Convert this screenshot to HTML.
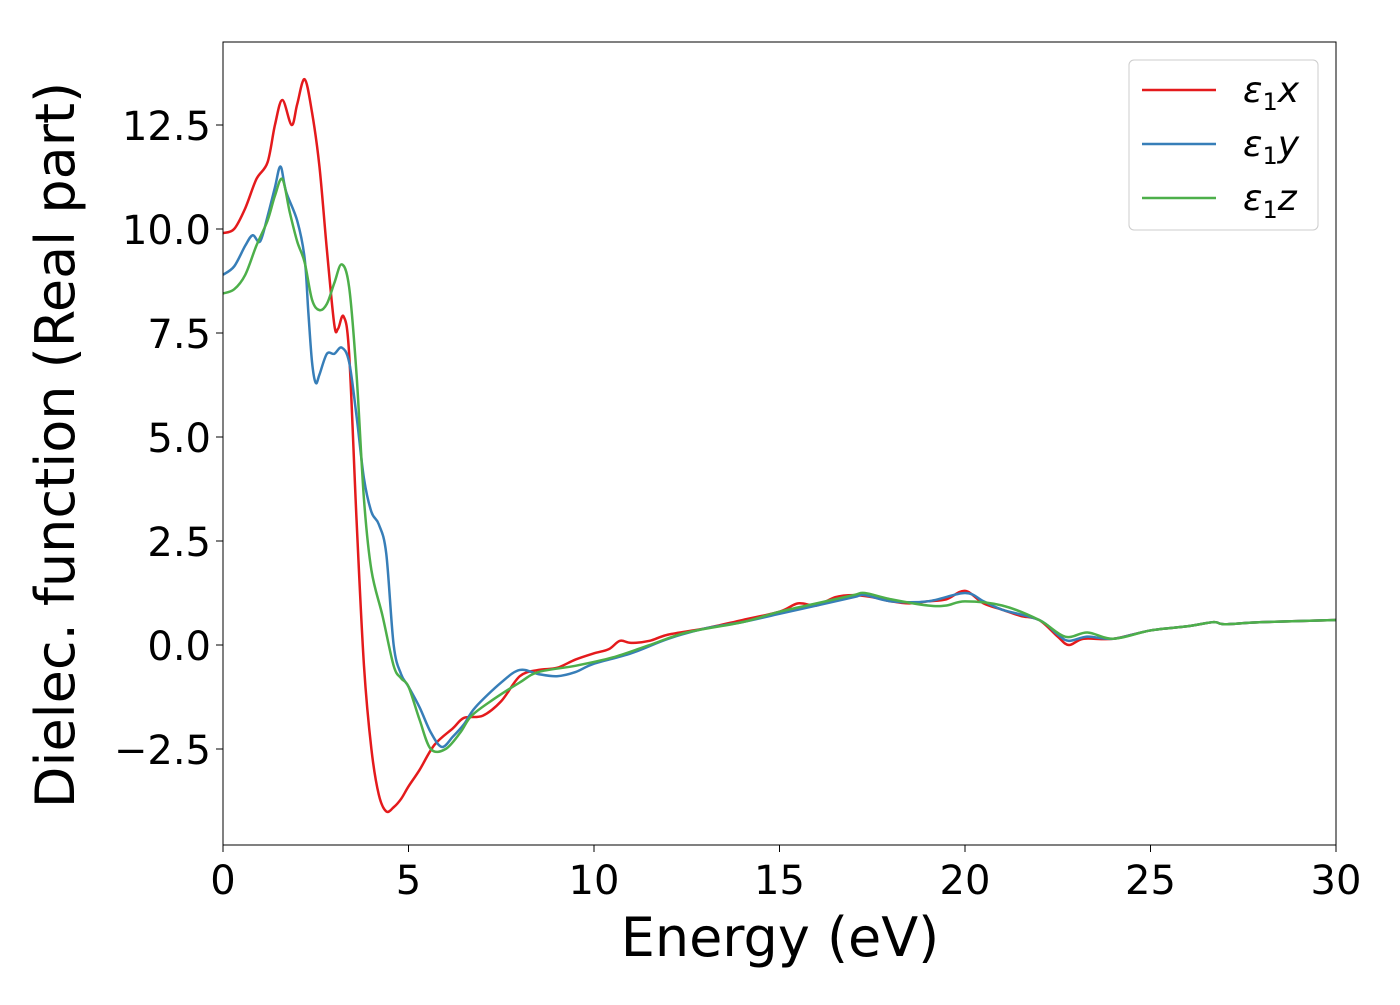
<!DOCTYPE html>
<html><head><meta charset="utf-8"><style>
body{margin:0;background:#fff}
svg{font-family:"DejaVu Sans","Liberation Sans",sans-serif}
</style></head><body>
<svg id="chart" width="1400" height="1000" viewBox="0 0 1400 1000">
<rect width="1400" height="1000" fill="#fff"/>
<g id="plot"></g>
<g id="axes"></g>
</svg>
<script>
const xTicks=[0,5,10,15,20,25,30];
const yTicks=[-2.5,0,2.5,5,7.5,10,12.5];
const yTickLabels=["\u22122.5","0.0","2.5","5.0","7.5","10.0","12.5"];
const seriesNames=["x","y","z"];
const seriesColors=["#e41a1c","#377eb8","#4daf4a"];
const e1x=[[0,9.9],[0.3,10.0],[0.6,10.5],[0.9,11.2],[1.2,11.6],[1.4,12.5],[1.6,13.1],[1.85,12.5],[2.0,13.0],[2.2,13.6],[2.4,12.8],[2.6,11.5],[2.8,9.5],[3.0,7.7],[3.1,7.6],[3.25,7.9],[3.4,7.0],[3.6,3.0],[3.8,-0.5],[4.0,-2.5],[4.2,-3.6],[4.4,-4.0],[4.6,-3.9],[4.8,-3.7],[5.0,-3.4],[5.3,-3.0],[5.7,-2.4],[6.2,-2.0],[6.5,-1.75],[7.0,-1.7],[7.5,-1.35],[8.0,-0.75],[8.5,-0.6],[9.0,-0.55],[9.5,-0.35],[10,-0.2],[10.4,-0.1],[10.7,0.1],[11.0,0.05],[11.5,0.1],[12,0.25],[13,0.4],[14,0.6],[15,0.8],[15.5,1.0],[16,0.95],[16.5,1.15],[17,1.2],[17.5,1.15],[18,1.05],[18.5,1.0],[19,1.05],[19.5,1.1],[20,1.3],[20.5,1.0],[21,0.85],[21.5,0.7],[22,0.6],[22.5,0.2],[22.8,0.0],[23.2,0.15],[24,0.15],[25,0.35],[26,0.45],[26.7,0.55],[27,0.5],[28,0.55],[30,0.6]];
const e1y=[[0,8.9],[0.3,9.1],[0.6,9.6],[0.8,9.85],[1.0,9.7],[1.2,10.3],[1.4,11.0],[1.55,11.5],[1.7,10.9],[2.0,10.2],[2.2,9.3],[2.3,8.0],[2.4,6.8],[2.5,6.3],[2.6,6.5],[2.8,7.0],[3.0,7.0],[3.2,7.15],[3.4,6.8],[3.6,5.5],[3.8,4.0],[4.0,3.2],[4.2,2.9],[4.4,2.2],[4.6,0.0],[4.8,-0.7],[5.0,-1.0],[5.3,-1.5],[5.6,-2.1],[5.9,-2.45],[6.2,-2.2],[6.5,-1.9],[6.8,-1.5],[7.5,-0.9],[8.0,-0.6],[8.5,-0.7],[9.0,-0.75],[9.5,-0.65],[10,-0.45],[11,-0.2],[12,0.15],[13,0.4],[14,0.55],[15,0.75],[16,0.95],[17,1.15],[17.3,1.2],[18,1.05],[19,1.05],[20,1.25],[20.5,1.05],[21,0.85],[22,0.6],[22.5,0.25],[22.8,0.1],[23.3,0.2],[24,0.15],[25,0.35],[26,0.45],[26.7,0.55],[27,0.5],[28,0.55],[30,0.6]];
const e1z=[[0,8.45],[0.3,8.55],[0.6,8.9],[0.9,9.6],[1.2,10.2],[1.4,10.8],[1.6,11.2],[1.8,10.4],[2.0,9.7],[2.2,9.2],[2.4,8.3],[2.6,8.05],[2.8,8.2],[3.0,8.7],[3.2,9.15],[3.4,8.6],[3.6,6.5],[3.8,3.5],[4.0,1.8],[4.3,0.7],[4.6,-0.5],[4.8,-0.8],[5.0,-1.0],[5.3,-1.8],[5.6,-2.5],[6.0,-2.5],[6.4,-2.1],[6.7,-1.7],[7.3,-1.3],[8.0,-0.9],[8.5,-0.65],[9.5,-0.5],[10.5,-0.3],[11.5,0.0],[12.5,0.3],[14,0.55],[15,0.8],[16,1.0],[17,1.2],[17.3,1.25],[18,1.1],[19,0.95],[19.5,0.95],[20,1.05],[21,0.95],[22,0.6],[22.7,0.2],[23.3,0.3],[24,0.15],[25,0.35],[26,0.45],[26.7,0.55],[27,0.5],[28,0.55],[30,0.6]];

const NS="http://www.w3.org/2000/svg";
const L=223,R=1336,T=42,B=845;
const sx=v=>L+(v-0)/30*(R-L);
const sy=v=>645-v*41.6;
function mk(tag,attrs,parent){const e=document.createElementNS(NS,tag);for(const k in attrs)e.setAttribute(k,attrs[k]);parent.appendChild(e);return e;}
const plot=document.getElementById('plot'),axes=document.getElementById('axes');
const clip=mk('clipPath',{id:'clipA'},plot);mk('rect',{x:L,y:T,width:R-L,height:B-T},clip);
function smoothPath(pts){
  const p=pts.map(d=>[sx(d[0]),sy(d[1])]);
  let s=`M${p[0][0]},${p[0][1]}`;
  for(let i=0;i<p.length-1;i++){
    const p0=p[i-1]||p[i],p1=p[i],p2=p[i+1],p3=p[i+2]||p2;
    const c1=[p1[0]+(p2[0]-p0[0])/6,p1[1]+(p2[1]-p0[1])/6];
    const c2=[p2[0]-(p3[0]-p1[0])/6,p2[1]-(p3[1]-p1[1])/6];
    s+=` C${c1[0]},${c1[1]} ${c2[0]},${c2[1]} ${p2[0]},${p2[1]}`;
  }
  return s;
}
const data=[e1x,e1y,e1z];
data.forEach((d,i)=>{
  const path=mk('path',{d:smoothPath(d),fill:'none',stroke:seriesColors[i],'stroke-width':2.5,'clip-path':'url(#clipA)'},plot);
  
  
});
const frame=mk('rect',{x:L,y:T,width:R-L,height:B-T,fill:'none',stroke:'#000','stroke-width':1},axes);


xTicks.forEach(v=>{
  mk('line',{x1:sx(v),x2:sx(v),y1:B,y2:B+7,stroke:'#000','stroke-width':1},axes);
  const t=mk('text',{x:sx(v),y:B+49,'font-size':40,'text-anchor':'middle'},axes);t.textContent=v;
  
  
});
yTicks.forEach((v,i)=>{
  mk('line',{x1:L-7,x2:L,y1:sy(v),y2:sy(v),stroke:'#000','stroke-width':1},axes);
  const t=mk('text',{x:L-12,y:sy(v)+15,'font-size':40,'text-anchor':'end'},axes);t.textContent=yTickLabels[i];
  
  
});
const xt=mk('text',{x:780,y:956,'font-size':54,'text-anchor':'middle'},axes);xt.textContent='Energy (eV)';


const yt=mk('text',{x:0,y:0,'font-size':54,'text-anchor':'middle',transform:'translate(74,445) rotate(-90)'},axes);yt.textContent='Dielec. function (Real part)';


const lg=mk('g',{},axes);


mk('rect',{x:1129,y:60,width:189,height:170,rx:5,fill:'#fff',stroke:'#ccc','stroke-width':1},lg);
seriesNames.forEach((n,i)=>{
  const y=90+i*54;
  const ln=mk('line',{x1:1142,x2:1216,y1:y,y2:y,stroke:seriesColors[i],'stroke-width':2.5},lg);
  
  
  const t=mk('text',{x:1243,y:y+12,'font-size':36,'font-family':'"DejaVu Sans",sans-serif','font-style':'italic'},lg);
  t.innerHTML='ε<tspan font-style="normal" font-size="24" dy="8">1</tspan><tspan dy="-8">'+n+'</tspan>';
  
  
});
</script>
</body></html>
